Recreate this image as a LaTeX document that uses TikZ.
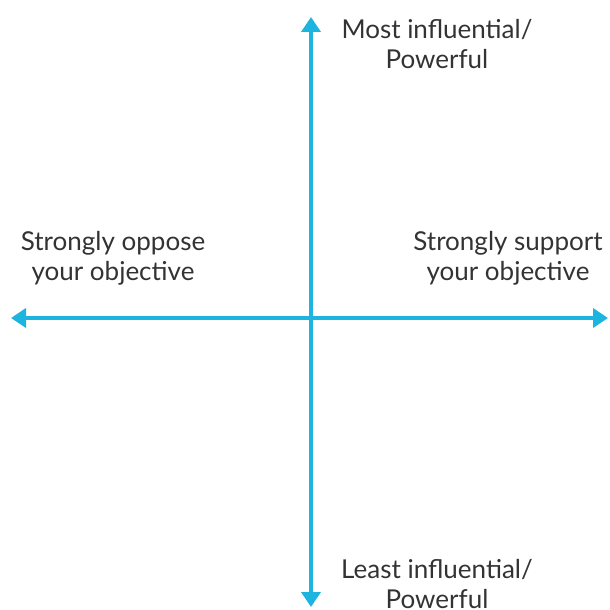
\documentclass[tikz,border=0pt]{standalone}
\usepackage{fontspec}
\setmainfont{Lato}
\usetikzlibrary{arrows.meta}
\definecolor{axisblue}{HTML}{1DB4E0}
\definecolor{labelgray}{HTML}{333333}
\begin{document}
\begin{tikzpicture}[x=1pt,y=-1pt,
  axis/.style={axisblue, line width=4pt, {Triangle[width=19pt,length=15pt]}-{Triangle[width=19pt,length=15pt]}},
  lbl/.style={text=labelgray, font=\fontsize{26}{29.5}\selectfont, align=center, inner sep=0pt}]
\useasboundingbox (0,0) rectangle (610,610);
\coordinate (top) at (311,17);
\coordinate (bottom) at (311,607);
\coordinate (left) at (11,318);
\coordinate (right) at (608,318);
\draw[axis] (bottom) -- (top);
\draw[axis] (left) -- (right);
% anchor=base sits on the baseline of the last line
\node[lbl, anchor=base] (most) at (437,68) {Most influential/\\Powerful};
\node[lbl, anchor=base] (oppose) at (113,280) {Strongly oppose\\your objective};
\node[lbl, anchor=base] (support) at (508,280) {Strongly support\\your objective};
\node[lbl, anchor=base] (least) at (437,608) {Least influential/\\Powerful};
\end{tikzpicture}
\end{document}
